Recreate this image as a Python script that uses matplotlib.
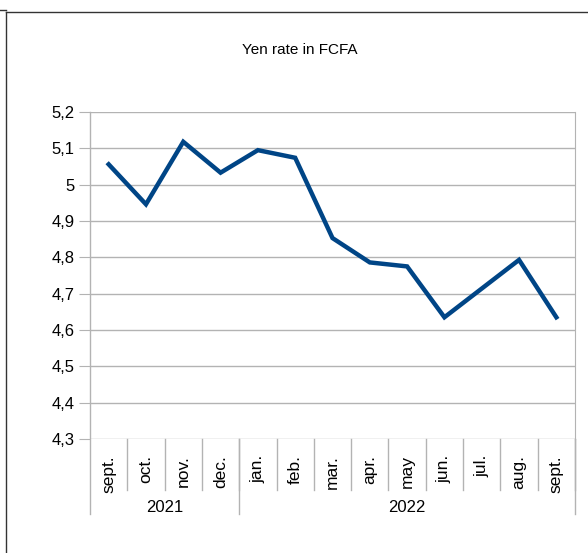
import matplotlib
matplotlib.use("Agg")
import matplotlib.pyplot as plt
from matplotlib.lines import Line2D

plt.rcParams['font.family'] = ['Liberation Sans', 'DejaVu Sans']

months = ["sept.", "oct.", "nov.", "dec.", "jan.", "feb.", "mar.", "apr.",
          "may", "jun.", "jul.", "aug.", "sept."]
years = ["2021", "2022"]
year_counts = [4, 9]
values = [5.056, 4.946, 5.118, 5.033, 5.095, 5.074, 4.853, 4.786,
          4.775, 4.635, 4.714, 4.793, 4.635]
yticks = [4.3, 4.4, 4.5, 4.6, 4.7, 4.8, 4.9, 5.0, 5.1, 5.2]
ytick_labels = ["4,3", "4,4", "4,5", "4,6", "4,7", "4,8", "4,9", "5", "5,1", "5,2"]
title = "Yen rate in FCFA"

W, H = 588, 553
fig = plt.figure(figsize=(W / 100, H / 100), dpi=100)

# outer frame (partially visible)
fig.add_artist(Line2D([6 / W, 6 / W], [0, 1 - 12 / H], transform=fig.transFigure,
                      color="#333333", lw=1))
fig.add_artist(Line2D([6 / W, 1], [1 - 12 / H, 1 - 12 / H], transform=fig.transFigure,
                      color="#333333", lw=1))
fig.add_artist(Line2D([0, 6 / W], [1 - 10 / H, 1 - 10 / H], transform=fig.transFigure,
                      color="#333333", lw=1))

left, right, top, bottom = 90, 575, 112, 439
ax = fig.add_axes([left / W, 1 - bottom / H, (right - left) / W, (bottom - top) / H])

grid_c = "#b3b3b3"
x = list(range(len(months)))
ax.plot(x, values, color="#004586", lw=3.2, solid_joinstyle="miter", zorder=3)

ax.set_xlim(-0.5, len(months) - 0.5)
ax.set_ylim(4.3, 5.2)
ax.set_yticks(yticks)
ax.set_yticklabels(ytick_labels, fontsize=12)
ax.tick_params(axis="y", length=8, color=grid_c, pad=3, labelcolor="black")
ax.set_xticks([])
for yv in yticks:
    ax.axhline(yv, color=grid_c, lw=1, zorder=1)

for s in ["top", "bottom", "left"]:
    ax.spines[s].set_visible(False)
ax.spines["right"].set_color(grid_c)

tr = ax.get_xaxis_transform()
ph = bottom - top
month_bot = -(490 - bottom) / ph
year_bot = -(514 - bottom) / ph

# left axis line extending below
ax.plot([-0.5, -0.5], [1, year_bot], transform=tr, color=grid_c, lw=1, clip_on=False)

# month separators
for i in range(1, len(months) + 1):
    ax.plot([i - 0.5, i - 0.5], [0, month_bot], transform=tr, color=grid_c, lw=1,
            clip_on=False)
# year separators
pos = -0.5
for c in year_counts:
    pos += c
    ax.plot([pos, pos], [0, year_bot], transform=tr, color=grid_c, lw=1, clip_on=False)

# month labels
lab_y = -(455 - bottom) / ph
for i, m in enumerate(months):
    ax.text(i, lab_y, m, transform=tr, rotation=90, ha="center", va="top",
            fontsize=12.5, clip_on=False)

# year labels
start = -0.5
yl_y = -(508 - bottom) / ph
for yname, c in zip(years, year_counts):
    ax.text(start + c / 2, yl_y, yname, transform=tr, ha="center", va="center",
            fontsize=12, clip_on=False)
    start += c

fig.text(300 / W, 1 - 50 / H, title, ha="center", va="center", fontsize=11)

fig.savefig("out.png", dpi=100)
